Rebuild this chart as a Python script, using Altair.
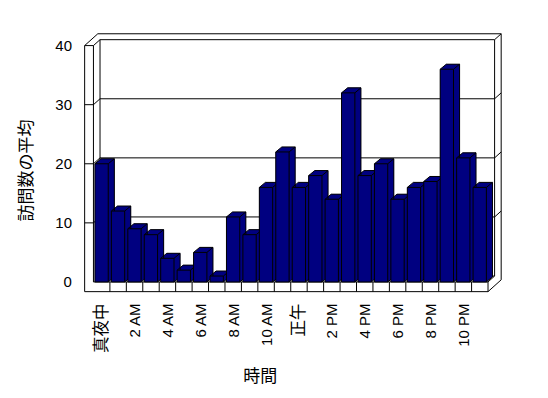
import json
import altair as alt
import pandas as pd

# ---------------- data ----------------
hours = list(range(24))
visits = [20, 12, 9, 8, 4, 2, 5, 1, 11, 8, 16, 22, 16, 18, 14, 32, 18, 20, 14, 16, 17, 36, 21, 16]
hour_labels = ["真夜中", "2 AM", "4 AM", "6 AM", "8 AM", "10 AM", "正午", "2 PM", "4 PM", "6 PM", "8 PM", "10 PM"]
y_ticks = [0, 10, 20, 30, 40]
x_title = "時間"
y_title = "訪問数の平均"

# ---------------- geometry (scale units) ----------------
N = len(hours)
YMAX = 40
DX, DY = 0.4, 1.0          # wall depth offset
BDX, BDY = 0.37, 0.85      # bar depth offset
BAR_L, BAR_R = 0.09, 0.90  # bar front face inside its band
WALL = -0.535              # outer edge of left wall
FLOOR = -1.64              # bottom edge of floor slab

NAVY = "#000080"
FONT = "Liberation Sans, Noto Sans CJK JP"

# bars
bars = pd.DataFrame({"hour": hours, "v": visits})
bars["xl"] = bars["hour"] + BAR_L
bars["xr"] = bars["hour"] + BAR_R
bars["zero"] = 0.0
bars["bxl"] = bars["xl"] + BDX
bars["bxr"] = bars["xr"] + BDX
bars["bz"] = BDY
bars["bv"] = bars["v"] + BDY

# hexagon silhouette (top + side faces) of each bar
hex_rows = []
for h, v in zip(hours, visits):
    xl, xr = h + BAR_L, h + BAR_R
    hex_rows += [
        {"hour": h, "x": xl, "lo": 0.0, "hi": v},
        {"hour": h, "x": xl + BDX, "lo": 0.0, "hi": v + BDY},
        {"hour": h, "x": xr, "lo": 0.0, "hi": v + BDY},
        {"hour": h, "x": xr + BDX, "lo": BDY, "hi": v + BDY},
    ]
hexdf = pd.DataFrame(hex_rows)

# bar edges
edge_rows = []
for h, v in zip(hours, visits):
    xl, xr = h + BAR_L, h + BAR_R
    edge_rows += [
        (xl, v, xl + BDX, v + BDY),
        (xl + BDX, v + BDY, xr + BDX, v + BDY),
        (xr, v, xr + BDX, v + BDY),
        (xr + BDX, v + BDY, xr + BDX, BDY),
        (xr, 0, xr + BDX, BDY),
    ]
edges = pd.DataFrame(edge_rows, columns=["x", "y", "x2", "y2"])

# frame (walls + floor) segments
fr = []
for t in y_ticks[:-1]:
    fr.append((DX, t + DY, N + DX, t + DY))
    if t > 0:
        fr.append((0, t, DX, t + DY))
        fr.append((WALL, t, 0, t))
        fr.append((N + DX, t + DY, N + 2 * DX, t + 2 * DY))
fr += [
    (WALL, FLOOR, WALL, YMAX),
    (0, 0, 0, YMAX),
    (WALL, YMAX, 0, YMAX),
    (0, YMAX, DX, YMAX + DY),
    (WALL, YMAX, WALL + 2 * DX, YMAX + 2 * DY),
    (DX, DY, DX, YMAX + DY),
    (DX, YMAX + DY, N + DX, YMAX + DY),
    (WALL + 2 * DX, YMAX + 2 * DY, N + 2 * DX, YMAX + 2 * DY),
    (N + DX, YMAX + DY, N + 2 * DX, YMAX + 2 * DY),
    (N + DX, YMAX + DY, N + DX, DY),
    (N + 2 * DX, YMAX + 2 * DY, N + 2 * DX, FLOOR + 2 * DY),
    (0, 0, N, 0),
    (WALL, FLOOR, N, FLOOR),
    (N, FLOOR, N, 0),
    (N, 0, N + DX, DY),
    (N, FLOOR, N + 2 * DX, FLOOR + 2 * DY),
]
for k in range(1, N):
    fr.append((k, FLOOR, k, 0))
frame = pd.DataFrame(fr, columns=["x", "y", "x2", "y2"])

# ---------------- scales / axes ----------------
xs = alt.Scale(domain=[0, N], nice=False, zero=False)
ys = alt.Scale(domain=[0, YMAX], nice=False, zero=False)

label_expr = "%s[round((datum.value - 0.5) / 2)]" % json.dumps(hour_labels, ensure_ascii=False)
cjk_test = "datum.value == 0.5 || datum.value == 12.5"
x_axis = alt.Axis(
    values=[h + 0.5 for h in hours[::2]], labelExpr=label_expr,
    labelAngle=-90, labelAlign="right", labelBaseline="middle",
    labelPadding=21,
    labelFontSize={"condition": {"test": cjk_test, "value": 16.5}, "value": 15},
    labelFont=FONT, labelColor="black",
    labelOverlap=False, labelFlush=False, labelSeparation=0,
    ticks=False, domain=False, grid=False,
    title=x_title, titleFont=FONT, titleFontSize=17, titleFontWeight="normal",
    titleColor="black", titleX=166.5, titleY=95, titleBaseline="middle", titleAlign="center",
)
y_axis = alt.Axis(
    values=y_ticks, labelPadding=22, labelFontSize=15, labelFont=FONT, labelColor="black",
    labelFlush=False, labelBaseline="middle", labelOverlap=False,
    ticks=False, domain=False, grid=False,
    title=y_title, titleFont=FONT, titleFontSize=17, titleFontWeight="normal",
    titleColor="black", titleAngle=-90, titleX=-66.5, titleY=124.5,
    titleBaseline="middle", titleAlign="center",
)

frame_layer = alt.Chart(frame).mark_rule(color="black", strokeWidth=1).encode(
    x=alt.X("x:Q", scale=xs, axis=x_axis, title=x_title), x2="x2:Q",
    y=alt.Y("y:Q", scale=ys, axis=y_axis, title=y_title), y2="y2:Q",
)

back_layer = alt.Chart(bars).mark_rect(fill=NAVY, strokeWidth=0).encode(
    x=alt.X("bxl:Q", scale=xs, axis=None), x2="bxr:Q",
    y=alt.Y("bv:Q", scale=ys, axis=None), y2="bz:Q",
)

hex_layer = alt.Chart(hexdf).mark_area(fill=NAVY, stroke=None).encode(
    x=alt.X("x:Q", scale=xs, axis=None),
    y=alt.Y("hi:Q", scale=ys, stack=None, axis=None), y2="lo:Q",
    detail="hour:N",
)

edge_layer = alt.Chart(edges).mark_rule(color="black", strokeWidth=1).encode(
    x=alt.X("x:Q", scale=xs, axis=None), x2="x2:Q",
    y=alt.Y("y:Q", scale=ys, axis=None), y2="y2:Q",
)

front_layer = alt.Chart(bars).mark_rect(fill=NAVY, stroke="black", strokeWidth=1).encode(
    x=alt.X("xl:Q", scale=xs, axis=None), x2="xr:Q",
    y=alt.Y("v:Q", scale=ys, axis=None), y2="zero:Q",
)

chart = alt.layer(frame_layer, back_layer, hex_layer, edge_layer, front_layer).resolve_axis(
    x="independent", y="independent"
).properties(
    width=394.8, height=236.5,
    autosize=alt.AutoSizeParams(type="none"),
    padding={"left": 85.5, "top": 37.5, "right": 52, "bottom": 108},
    background="white",
).configure_view(stroke=None)

chart.save("out.html", embed_options={"renderer": "svg", "actions": False})
